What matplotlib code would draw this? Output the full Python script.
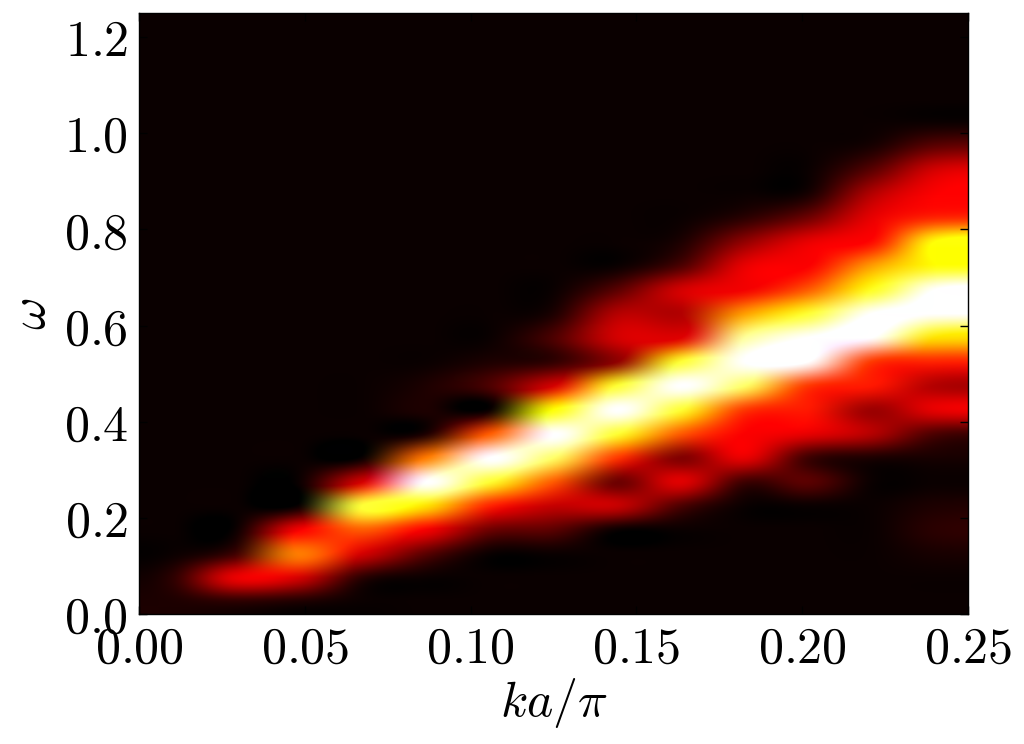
import numpy as np
import matplotlib
matplotlib.use("Agg")
import matplotlib.pyplot as plt
from matplotlib import cm
from matplotlib.colors import Normalize
from matplotlib.ticker import FixedLocator, FuncFormatter

plt.rcParams['mathtext.fontset'] = 'cm'

# grid: 13 momentum columns (ka/pi in [0, 0.25]), 25 frequency rows (omega in [0, 1.25])
k_range = [0.0, 0.25]
w_range = [0.0, 1.25]

# intensity per k column, listed from omega = 0 upward (25 rows each); >1 saturates to white
col00 = [0.03, 0.05, 0.00, 0, 0, 0, 0, 0, 0, 0, 0, 0, 0, 0, 0, 0, 0, 0, 0, 0, 0, 0, 0, 0, 0]
col01 = [0.05, 0.33, 0.08, 0.0, 0, 0, 0, 0, 0, 0, 0, 0, 0, 0, 0, 0, 0, 0, 0, 0, 0, 0, 0, 0, 0]
col02 = [0.03, 0.30, 0.55, 0.35, 0.0, 0, 0, 0, 0, 0, 0, 0, 0, 0, 0, 0, 0, 0, 0, 0, 0, 0, 0, 0, 0]
col03 = [0.0, 0.05, 0.30, 0.50, 0.80, 0.30, 0.0, 0, 0, 0, 0, 0, 0, 0, 0, 0, 0, 0, 0, 0, 0, 0, 0, 0, 0]
col04 = [0.0, 0.0, 0.12, 0.35, 0.70, 1.00, 0.55, 0.03, 0.03, 0.03, 0, 0, 0, 0, 0, 0, 0, 0, 0, 0, 0, 0, 0, 0, 0]
col05 = [0.0, 0.0, 0.0, 0.15, 0.42, 0.80, 1.10, 0.50, 0.0, 0.10, 0.03, 0, 0, 0, 0, 0, 0, 0, 0, 0, 0, 0, 0, 0, 0]
col06 = [0.0, 0.0, 0.0, 0.12, 0.28, 0.50, 0.85, 1.10, 0.75, 0.30, 0.06, 0.10, 0.03, 0, 0, 0, 0, 0, 0, 0, 0, 0, 0, 0, 0]
col07 = [0.0, 0.0, 0.0, 0.0, 0.28, 0.15, 0.45, 0.80, 1.10, 0.80, 0.20, 0.30, 0.25, 0.12, 0.0, 0, 0, 0, 0, 0, 0, 0, 0, 0, 0]
col08 = [0.0, 0.0, 0.0, 0.0, 0.10, 0.32, 0.18, 0.50, 0.80, 1.10, 0.80, 0.32, 0.25, 0.30, 0.10, 0.03, 0, 0, 0, 0, 0, 0, 0, 0, 0]
col09 = [0.0, 0.0, 0.0, 0.0, 0.0, 0.08, 0.33, 0.36, 0.45, 0.85, 1.10, 0.90, 0.60, 0.35, 0.33, 0.20, 0.05, 0, 0, 0, 0, 0, 0, 0, 0]
col10 = [0.0, 0.0, 0.0, 0.0, 0.0, 0.12, 0.08, 0.33, 0.40, 0.45, 1.00, 1.10, 0.80, 0.50, 0.36, 0.33, 0.15, 0.02, 0, 0, 0, 0, 0, 0, 0]
col11 = [0.0, 0.0, 0.0, 0.0, 0.0, 0.0, 0.03, 0.25, 0.22, 0.40, 0.45, 1.00, 1.10, 0.78, 0.60, 0.38, 0.33, 0.25, 0.12, 0.02, 0, 0, 0, 0, 0]
col12 = [0.0, 0.0, 0.02, 0.05, 0.03, 0.0, 0.02, 0.10, 0.33, 0.25, 0.42, 0.70, 1.10, 1.10, 0.75, 0.75, 0.42, 0.36, 0.30, 0.12, 0.0, 0, 0, 0, 0]

columns = [col00, col01, col02, col03, col04, col05, col06,
           col07, col08, col09, col10, col11, col12]

x_ticks = [0.00, 0.05, 0.10, 0.15, 0.20, 0.25]
y_ticks = [0.0, 0.2, 0.4, 0.6, 0.8, 1.0, 1.2]

intensity = np.array(columns).T  # rows = omega, cols = k
rgba = cm.hot(Normalize(vmin=0.0, vmax=1.0, clip=True)(intensity))

fig = plt.figure(figsize=(10.24, 7.44), dpi=100)
ax = fig.add_axes([139 / 1024, 1 - 614 / 744, (968 - 139) / 1024, (614 - 13) / 744])
ax.imshow(rgba, origin='lower', extent=[k_range[0], k_range[1], w_range[0], w_range[1]],
          aspect='auto', interpolation='catrom')
ax.set_xlim(k_range)
ax.set_ylim(w_range)

ax.xaxis.set_major_locator(FixedLocator(x_ticks))
ax.yaxis.set_major_locator(FixedLocator(y_ticks))
ax.xaxis.set_major_formatter(FuncFormatter(lambda v, p: r'$%.2f$' % v))
ax.yaxis.set_major_formatter(FuncFormatter(lambda v, p: r'$%.1f$' % v))
ax.tick_params(direction='in', top=True, right=True, length=6, width=1,
               labelsize=36, pad=8, color='black')

ax.set_xlabel(r'$ka/\pi$', fontsize=36, labelpad=2)
ax.set_ylabel(r'$\omega$', fontsize=36, labelpad=6)

for s in ax.spines.values():
    s.set_linewidth(1.0)

fig.savefig('out.png', dpi=100)
